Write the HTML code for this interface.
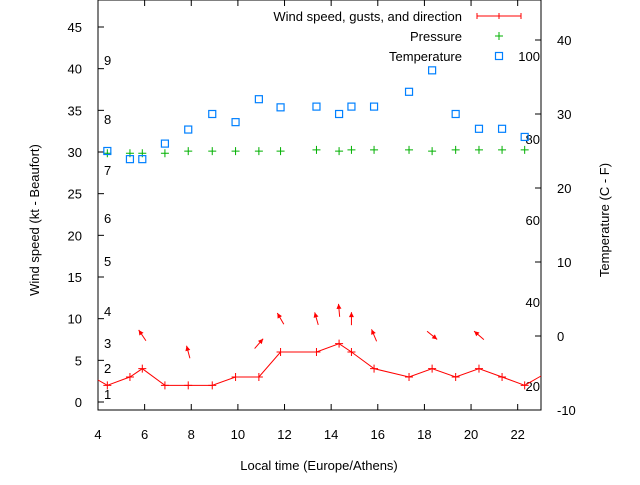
<!DOCTYPE html>
<html><head><meta charset="utf-8"><style>
body{margin:0;background:#fff}
svg text{font-family:"Liberation Sans",sans-serif;font-size:13px;fill:#000}
</style></head><body>
<svg id="c" width="640" height="480" xmlns="http://www.w3.org/2000/svg">
<g id="g"></g>
</svg>
<script>
const hours=[4.4,5.37,5.9,6.87,7.87,8.9,9.9,10.9,11.83,13.37,14.34,14.87,15.84,17.34,18.33,19.34,20.34,21.33,22.3];
const windKt=[2,3,4,2,2,2,3,3,6,6,7,6,4,3,4,3,4,3,2];
const tempC=[25,23.9,23.9,26,27.9,30,28.9,32,30.9,31,30,31,31,33,35.9,30,28,28,26.9];
const pressure=[29.85,29.85,29.85,29.85,30.1,30.1,30.1,30.1,30.1,30.25,30.1,30.25,30.25,30.25,30.1,30.25,30.25,30.25,30.25];
const arrowHours=[5.9,7.87,10.9,11.83,13.37,14.34,14.87,15.84,18.33,20.34];
const gustKt=[8,6,7,10,10,11,10,8,8,8];
const dirDeg=[326,345,41,330,344,355,0,337,129,311];
const xTicks=[4,6,8,10,12,14,16,18,20,22];
const yTicks=[0,5,10,15,20,25,30,35,40,45];
const y2Ticks=[-10,0,10,20,30,40];
const bftLabels=[["9",60],["8",119],["7",170],["6",218],["5",261],["4",311],["3",343],["2",368],["1",394]];
const fLabels=[["100",56],["80",139],["60",220],["40",302],["20",386]];

const L=98,R=541,T=0,B=410;
const X=h=>L+(h-4)/(23-4)*(R-L);
const Y=v=>402-v*(375/45);
const Y2=v=>336-v*7.4;
const NS='http://www.w3.org/2000/svg';
const g=document.getElementById('g');
function el(tag,a,txt){const e=document.createElementNS(NS,tag);for(const k in a)e.setAttribute(k,a[k]);if(txt!==undefined)e.textContent=txt;g.appendChild(e);return e;}

let e;
e=el('rect',{x:L,y:T,width:R-L,height:B-T,fill:'none',stroke:'#000','stroke-width':1});

xTicks.forEach(t=>{const x=X(t);
 el('line',{x1:x,x2:x,y1:B,y2:B-6,stroke:'#000'});el('line',{x1:x,x2:x,y1:T,y2:T+6,stroke:'#000'});
 e=el('text',{x:x,y:439,'text-anchor':'middle'},t);
 });
yTicks.forEach(t=>{const y=Y(t);el('line',{x1:L,x2:L+6,y1:y,y2:y,stroke:'#000'});
 e=el('text',{x:82,y:y+5,'text-anchor':'end'},t);
 });
y2Ticks.forEach(t=>{const y=Y2(t);el('line',{x1:R,x2:R-6,y1:y,y2:y,stroke:'#000'});
 e=el('text',{x:557,y:y+5,'text-anchor':'start'},t);
 });
bftLabels.forEach(b=>{e=el('text',{x:104,y:b[1]+5},b[0]);
 });
fLabels.forEach(b=>{e=el('text',{x:540,y:b[1]+5,'text-anchor':'end'},b[0]);
 });
e=el('text',{x:319,y:470,'text-anchor':'middle'},'Local time (Europe/Athens)');

e=el('text',{x:0,y:0,'text-anchor':'middle',transform:'translate(39,220) rotate(-90)'},'Wind speed (kt - Beaufort)');

e=el('text',{x:0,y:0,'text-anchor':'middle',transform:'translate(609,220) rotate(-90)'},'Temperature (C - F)');


// pressure
hours.forEach((h,i)=>{const x=X(h),y=Y(pressure[i]);
 e=el('path',{d:`M${x-4},${y}H${x+4}M${x},${y-4}V${y+4}`,stroke:'#00b000','stroke-width':1});
 });
// temperature
hours.forEach((h,i)=>{const x=X(h),y=Y2(tempC[i]);
 e=el('rect',{x:x-3.5,y:y-3.5,width:7,height:7,fill:'none',stroke:'#0080ff','stroke-width':1.2});
 });
// wind line
const pts=hours.map((h,i)=>X(h)+','+Y(windKt[i]));
e=el('polyline',{points:`${L},380 `+pts.join(' ')+` ${R},376`,fill:'none',stroke:'#f00','stroke-width':1});

hours.forEach((h,i)=>{const x=X(h),y=Y(windKt[i]);
 e=el('path',{d:`M${x-4},${y}H${x+4}M${x},${y-4}V${y+4}`,stroke:'#f00'});
 });
// arrows
arrowHours.forEach((h,i)=>{const cx=X(h),cy=Y(gustKt[i]);const a=dirDeg[i]*Math.PI/180;
 const dx=Math.sin(a)*6.5,dy=-Math.cos(a)*6.5;
 const hx=cx+dx,hy=cy+dy;const ux=dx/6.5,uy=dy/6.5;
 const p1x=hx-ux*5-uy*2.5,p1y=hy-uy*5+ux*2.5,p2x=hx-ux*5+uy*2.5,p2y=hy-uy*5-ux*2.5;
 e=el('line',{x1:cx-dx,y1:cy-dy,x2:hx,y2:hy,stroke:'#f00','stroke-width':1});
 
 e=el('polygon',{points:`${hx},${hy} ${p1x},${p1y} ${p2x},${p2y}`,fill:'#f00'});
 });
// legend
e=el('text',{x:462,y:21,'text-anchor':'end'},'Wind speed, gusts, and direction');

el('path',{d:'M477,16H521M477,13V19M499,13V19M521,13V19',stroke:'#f00'});
e=el('text',{x:462,y:41,'text-anchor':'end'},'Pressure');

el('path',{d:'M495,36H503M499,32V40',stroke:'#00b000'});
e=el('text',{x:462,y:61,'text-anchor':'end'},'Temperature');

el('rect',{x:495.5,y:52.5,width:7,height:7,fill:'none',stroke:'#0080ff','stroke-width':1.2});
</script>
</body></html>
